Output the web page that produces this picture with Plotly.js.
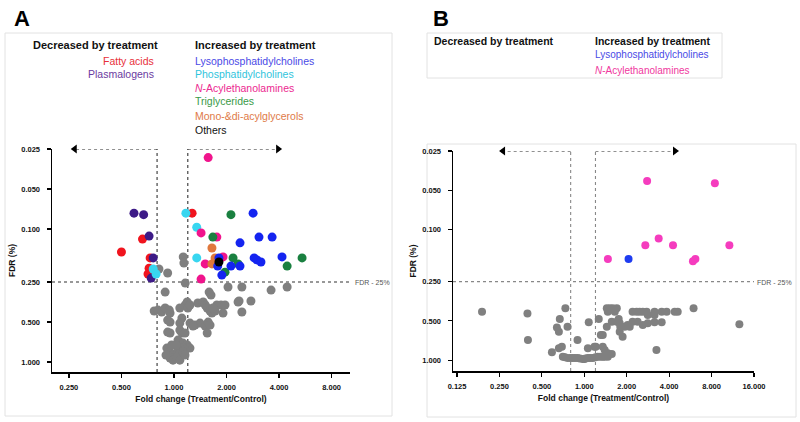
<!DOCTYPE html>
<html>
<head>
<meta charset="utf-8">
<script src="https://cdn.plot.ly/plotly-3.0.1.min.js"></script>
<style>html,body{margin:0;padding:0;background:#fff;}#chart{width:800px;height:422px;}</style>
</head>
<body>
<div id="chart"></div>
<script>
// ---------------- Panel A data (fold change, FDR) ----------------
const A_fattyAcids_fc  = [1.27, 0.66, 0.50, 0.73, 0.72, 0.71];
const A_fattyAcids_fdr = [0.076, 0.119, 0.149, 0.165, 0.197, 0.218];
const A_plasmalogens_fc  = [0.59, 0.67, 0.72, 0.76, 0.74];
const A_plasmalogens_fdr = [0.076, 0.078, 0.113, 0.165, 0.234];
const A_lpc_fc  = [2.84, 3.07, 3.65, 2.39, 2.88, 2.99, 3.15, 4.16, 1.81, 1.78, 2.12, 2.39, 1.88];
const A_lpc_fdr = [0.076, 0.115, 0.115, 0.127, 0.165, 0.171, 0.177, 0.162, 0.165, 0.190, 0.190, 0.190, 0.222];
const A_pc_fc  = [1.17, 1.35, 1.35, 0.76, 0.79];
const A_pc_fdr = [0.076, 0.097, 0.165, 0.200, 0.218];
const A_nae_fc  = [1.57, 1.43, 1.76, 1.91, 1.51, 1.43];
const A_nae_fdr = [0.029, 0.107, 0.115, 0.162, 0.183, 0.238];
const A_tg_fc  = [2.12, 1.67, 2.18, 2.33, 5.42, 4.45, 1.96];
const A_tg_fdr = [0.078, 0.115, 0.165, 0.183, 0.165, 0.190, 0.211];
const A_mgdg_fc  = [1.65, 1.72, 1.65];
const A_mgdg_fdr = [0.139, 0.165, 0.183];
const A_others_fc  = [1.81];
const A_others_fdr = [0.177];
const A_ns_fc = [0.82, 0.92, 1.13, 1.14, 1.16, 0.89, 1.59, 1.63, 2.04, 2.45, 3.60, 4.45, 2.36, 2.76, 2.45,
  0.77, 0.81, 0.85, 0.89, 0.94, 0.95, 1.08, 1.16, 1.19, 1.20, 1.235, 1.37, 1.47, 1.51, 1.55, 1.61, 1.65,
  1.76, 1.86, 1.96, 1.91, 2.33, 1.72, 1.67, 0.92, 0.95, 1.11, 1.08, 1.235, 1.32, 1.41, 1.51, 1.55, 1.285,
  1.57, 1.61, 0.92, 0.95, 1.08, 1.11, 1.157, 1.054, 1.08, 1.126, 1.19, 0.91, 0.95, 0.987, 1.013, 1.054,
  1.08, 1.126, 1.19, 1.235, 0.95, 0.987, 1.04, 0.90, 1.03, 1.08, 1.157, 0.97, 1.126, 1.157];
const A_ns_fdr = [0.200, 0.214, 0.162, 0.180, 0.255, 0.298, 0.298, 0.314, 0.273, 0.273, 0.288, 0.273, 0.348, 0.348, 0.421,
  0.414, 0.407, 0.421, 0.393, 0.407, 0.429, 0.393, 0.373, 0.354, 0.393, 0.373, 0.360, 0.354, 0.373, 0.393, 0.414, 0.429,
  0.373, 0.373, 0.373, 0.429, 0.354, 0.414, 0.393, 0.484, 0.501, 0.468, 0.510, 0.510, 0.528, 0.510, 0.537, 0.606, 0.537,
  0.501, 0.528, 0.596, 0.606, 0.576, 0.606, 0.606, 0.685, 0.709, 0.721, 0.746, 0.786, 0.843, 0.888, 0.935, 0.814,
  0.857, 0.786, 0.786, 0.786, 0.935, 0.969, 0.919, 0.888, 0.746, 0.969, 0.814, 0.746, 0.843, 0.888];

// ---------------- Panel B data (fold change, FDR) ----------------
const B_lpc_fc  = [2.06];
const B_lpc_fdr = [0.168];
const B_nae_fc  = [1.47, 2.79, 8.44, 3.37, 2.71, 4.26, 10.7, 6.14, 5.90];
const B_nae_fdr = [0.168, 0.0424, 0.0442, 0.117, 0.132, 0.132, 0.132, 0.168, 0.175];
const B_ns_fc = [0.188, 0.395, 0.398, 0.734, 0.67, 0.639, 0.66, 0.76, 0.895, 1.075, 1.266, 0.589, 0.66, 0.693, 1.06, 1.206, 1.31,
  0.704, 0.73, 0.763, 0.80, 0.829, 0.86, 0.897, 0.93, 0.976, 1.0, 1.02, 1.06, 1.10, 1.149, 1.20, 1.246, 1.30, 1.352, 1.395, 1.468,
  1.18, 1.352, 1.395, 1.468, 1.566,
  1.444, 1.516, 1.59, 1.70, 1.468, 1.645,
  1.444, 1.566, 1.70, 1.783, 1.80, 1.936, 2.03, 2.10, 1.754,
  2.20, 2.35, 2.47, 2.60, 2.77, 3.15, 3.54, 3.84, 4.38, 4.60, 2.82, 3.15,
  2.20, 2.39, 2.60, 2.82, 3.15, 3.54, 5.96, 12.6, 1.783, 1.87, 1.352, 3.25];
const B_ns_fdr = [0.425, 0.438, 0.70, 0.40, 0.483, 0.561, 0.606, 0.554, 0.70, 0.513, 0.483, 0.87, 0.81, 0.79, 0.81, 0.79, 0.641,
  0.94, 0.95, 0.96, 0.96, 0.96, 0.96, 0.96, 0.97, 0.98, 0.98, 0.97, 0.96, 0.96, 0.96, 0.95, 0.94, 0.94, 0.94, 0.94, 0.94,
  0.79, 0.79, 0.835, 0.886, 0.895,
  0.40, 0.40, 0.40, 0.40, 0.425, 0.425,
  0.554, 0.507, 0.507, 0.521, 0.554, 0.554, 0.538, 0.554, 0.483,
  0.425, 0.425, 0.425, 0.425, 0.425, 0.425, 0.425, 0.425, 0.425, 0.425, 0.45, 0.45,
  0.507, 0.507, 0.538, 0.521, 0.513, 0.513, 0.40, 0.53, 0.606, 0.66, 0.641, 0.835];

// thresholds / ticks
const fcLow = 0.8, fcHigh = 1.2, fdrCut = 0.25, fdrTop = 0.025;
const A_xticks = [0.25, 0.5, 1, 2, 4, 8];
const A_xticktext = ['0.250', '0.500', '1.000', '2.000', '4.000', '8.000'];
const B_xticks = [0.125, 0.25, 0.5, 1, 2, 4, 8, 16];
const B_xticktext = ['0.125', '0.250', '0.500', '1.000', '2.000', '4.000', '8.000', '16.000'];
const yticks = [0.025, 0.05, 0.1, 0.25, 0.5, 1];
const yticktext = ['0.025', '0.050', '0.100', '0.250', '0.500', '1.000'];
const A_range = {x: [0.2, 10.2], y: [1.19, 0.025], arrowL: 0.27, arrowR: 3.95};
const B_range = {x: [0.117, 16], y: [1.21, 0.025], arrowL: 0.265, arrowR: 4.4};

const FONT = 'Liberation Sans, Arial, sans-serif';
const traces = [];
function lineTrace(x, y, xa, ya, color) {
  traces.push({x, y, xaxis: xa, yaxis: ya, mode: 'lines', type: 'scatter', hoverinfo: 'skip', showlegend: false,
    line: {color, width: 1.1, dash: 'dot'}});
}
function guides(R, xa, ya, color) {
  lineTrace([fcLow, fcLow], [R.y[0], fdrTop], xa, ya, color);
  lineTrace([fcHigh, fcHigh], [R.y[0], fdrTop], xa, ya, color);
  lineTrace([R.x[0], R.x[1]], [fdrCut, fdrCut], xa, ya, color);
  lineTrace([fcLow, R.arrowL], [fdrTop, fdrTop], xa, ya, '#222');
  lineTrace([fcHigh, R.arrowR], [fdrTop, fdrTop], xa, ya, '#222');
  traces.push({x: [R.arrowL, R.arrowR], y: [fdrTop, fdrTop], xaxis: xa, yaxis: ya, mode: 'markers', type: 'scatter',
    hoverinfo: 'skip', showlegend: false, cliponaxis: false,
    marker: {symbol: ['triangle-left', 'triangle-right'], size: 8, color: '#000'}});
}
function pts(x, y, xa, ya, color, size, name) {
  traces.push({x, y, xaxis: xa, yaxis: ya, mode: 'markers', type: 'scatter', name, showlegend: false, cliponaxis: false,
    marker: {color, size, line: {width: 0}}});
}
guides(A_range, 'x', 'y', '#333');
pts(A_ns_fc, A_ns_fdr, 'x', 'y', '#7f7f7f', 9, 'Not significant');
pts(A_fattyAcids_fc, A_fattyAcids_fdr, 'x', 'y', '#f0141e', 9, 'Fatty acids');
pts(A_plasmalogens_fc, A_plasmalogens_fdr, 'x', 'y', '#3d1a87', 9, 'Plasmalogens');
pts(A_pc_fc, A_pc_fdr, 'x', 'y', '#38d6f0', 9, 'Phosphatidylcholines');
pts(A_nae_fc, A_nae_fdr, 'x', 'y', '#f0148c', 9, 'N-Acylethanolamines');
pts(A_tg_fc, A_tg_fdr, 'x', 'y', '#1a8040', 9, 'Triglycerides');
pts(A_mgdg_fc, A_mgdg_fdr, 'x', 'y', '#e0783c', 9, 'Mono-&di-acylglycerols');
pts(A_lpc_fc, A_lpc_fdr, 'x', 'y', '#1424f0', 9, 'Lysophosphatidylcholines');
pts(A_others_fc, A_others_fdr, 'x', 'y', '#000000', 9, 'Others');

guides(B_range, 'x2', 'y2', '#888');
pts(B_ns_fc, B_ns_fdr, 'x2', 'y2', '#808080', 8, 'Not significant');
pts(B_lpc_fc, B_lpc_fdr, 'x2', 'y2', '#1e3cf0', 8, 'Lysophosphatidylcholines');
pts(B_nae_fc, B_nae_fdr, 'x2', 'y2', '#f53cbe', 8, 'N-Acylethanolamines');

const lg = v => Math.log10(v);
function xaxis(R, ticks, text, domain, anchor) {
  return {type: 'log', domain, anchor, range: [lg(R.x[0]), lg(R.x[1])], tickvals: ticks, ticktext: text,
    showline: true, linecolor: '#000', linewidth: 1.5, ticks: 'outside', ticklen: 4, tickwidth: 1.2, tickcolor: '#000',
    showgrid: false, zeroline: false, ticklabelstandoff: 3,
    tickfont: {family: FONT, size: 7.5, color: '#111', weight: 'bold'},
    title: {text: 'Fold change (Treatment/Control)', standoff: 5, font: {family: FONT, size: 8.5, color: '#111', weight: 'bold'}}};
}
function yaxis(R, domain, anchor) {
  return {type: 'log', domain, anchor, range: [lg(R.y[0]), lg(R.y[1])], tickvals: yticks, ticktext: yticktext,
    showline: true, linecolor: '#000', linewidth: 1.5, ticks: 'outside', ticklen: 4, tickwidth: 1.2, tickcolor: '#000',
    showgrid: false, zeroline: false, ticklabelstandoff: 5,
    tickfont: {family: FONT, size: 7.5, color: '#111', weight: 'bold'},
    title: {text: 'FDR (%)', standoff: 4, font: {family: FONT, size: 8.5, color: '#111', weight: 'bold'}}};
}

const W = 800, H = 422;
const px = v => v / W, py = v => 1 - v / H;
function txt(x, y, text, color, size, anchor, bold) {
  return {xref: 'paper', yref: 'paper', x: px(x), y: py(y), text, showarrow: false, xanchor: anchor, yanchor: 'middle',
    font: {family: FONT, size, color, weight: bold ? 'bold' : 'normal'}};
}
const annotations = [
  txt(12, 18, 'A', '#000', 22, 'left', true),
  txt(431, 18, 'B', '#000', 22, 'left', true),
  txt(31, 45, 'Decreased by treatment', '#111', 11, 'left', true),
  txt(193, 45, 'Increased by treatment', '#111', 11, 'left', true),
  txt(156, 61, 'Fatty acids', '#e8303a', 10.5, 'right'),
  txt(156, 74, 'Plasmalogens', '#6a3aa0', 10.5, 'right'),
  txt(193, 61, 'Lysophosphatidylcholines', '#4a4ae6', 10.5, 'left'),
  txt(193, 74, 'Phosphatidylcholines', '#30c4dc', 10.5, 'left'),
  txt(193, 88, '<i>N</i>-Acylethanolamines', '#ec2890', 10.5, 'left'),
  txt(193, 101, 'Triglycerides', '#3a9a48', 10.5, 'left'),
  txt(193, 116, 'Mono-&di-acylglycerols', '#e07a48', 10.5, 'left'),
  txt(193, 130, 'Others', '#111', 10.5, 'left'),
  txt(353, 282, 'FDR - 25%', '#555', 7, 'left'),
  txt(432, 41, 'Decreased by treatment', '#111', 10.5, 'left', true),
  txt(593, 41, 'Increased by treatment', '#111', 10.5, 'left', true),
  txt(593, 55, 'Lysophosphatidylcholines', '#4a4ae6', 10, 'left'),
  txt(593, 70, '<i>N</i>-Acylethanolamines', '#f0389e', 10, 'left'),
  txt(755, 282, 'FDR - 25%', '#555', 7, 'left')
];
function box(x0, y0, x1, y1) {
  return {type: 'rect', xref: 'paper', yref: 'paper', x0: px(x0), x1: px(x1), y0: py(y1), y1: py(y0),
    line: {color: '#e2e2e2', width: 1}, fillcolor: 'rgba(0,0,0,0)', layer: 'below'};
}
const layout = {
  width: W, height: H, margin: {l: 0, r: 0, t: 0, b: 0}, paper_bgcolor: '#fff', plot_bgcolor: 'rgba(0,0,0,0)',
  showlegend: false, font: {family: FONT},
  xaxis: xaxis(A_range, A_xticks, A_xticktext, [px(52), px(350)], 'y'),
  yaxis: yaxis(A_range, [py(372), py(149)], 'x'),
  xaxis2: xaxis(B_range, B_xticks, B_xticktext, [px(453), px(754)], 'y2'),
  yaxis2: yaxis(B_range, [py(371), py(151)], 'x2'),
  annotations,
  shapes: [box(5, 33, 392, 416), box(427, 33, 722, 78), box(427, 144, 796, 417)]
};
Plotly.newPlot('chart', traces, layout, {staticPlot: true, displayModeBar: false});
</script>
</body>
</html>
